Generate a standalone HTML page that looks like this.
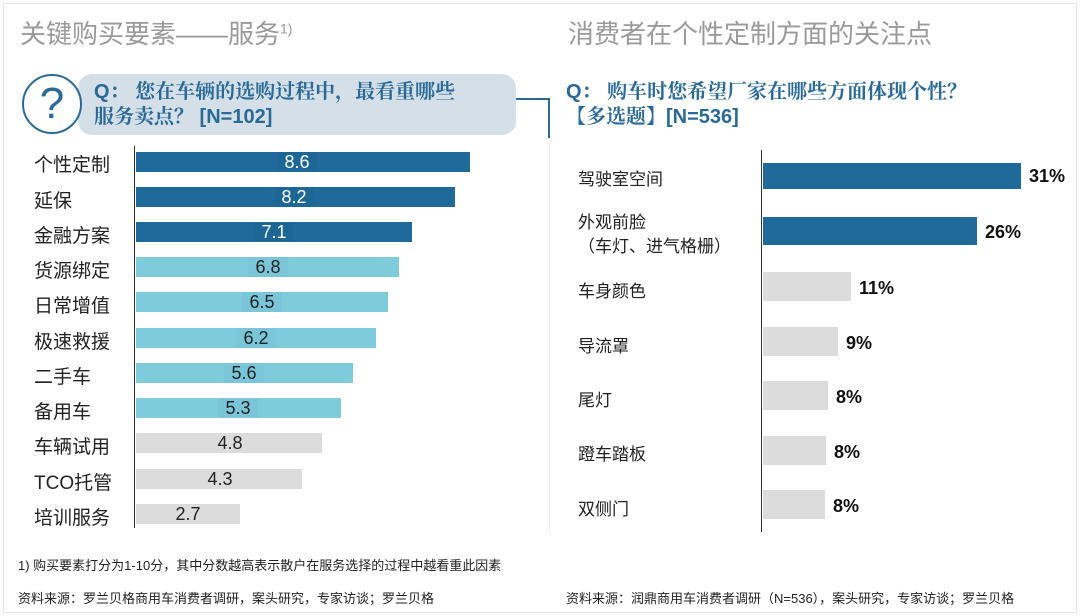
<!DOCTYPE html><html><head><meta charset="utf-8"><style>
body{margin:0;width:1080px;height:616px;background:#fff;position:relative;overflow:hidden;font-family:"Liberation Sans","Noto Sans CJK SC",sans-serif}
.a{position:absolute}
.t{color:#9a9a9a;font-size:26px;top:14px;white-space:nowrap}
.q{color:#2a6a96;font-weight:bold;font-size:20px;line-height:25px;white-space:nowrap;font-family:"Liberation Sans","Noto Serif CJK SC",serif}
.lb{font-size:19px;color:#222;left:34px;white-space:nowrap}
.bar{height:20px;left:136px}
.v{font-size:18px;text-align:center;width:40px;height:20px;line-height:20px}
.rl{font-size:17px;color:#222;left:578px;white-space:nowrap}
.rb{left:763px;background:#dcdcdc}
.p{font-size:18px;font-weight:bold;color:#111}
.f{font-size:13px;color:#222;white-space:nowrap}
</style></head><body>
<div class="a" style="left:3px;top:3px;width:1072px;height:608px;border:1px solid #e6e6e6"></div>
<div class="a t" style="left:20px">关键购买要素——服务<sup style="font-size:14px">1)</sup></div>
<div class="a t" style="left:568px">消费者在个性定制方面的关注点</div>
<div class="a" style="left:78px;top:74px;width:438px;height:61px;background:#d5dfe8;border-radius:14px"></div>
<div class="a" style="left:22px;top:74px;width:56px;height:56px;border:2px solid #2a6a96;border-radius:50%;background:#fff;color:#2a6a96;font-size:44px;line-height:56px;text-align:center;font-weight:normal">?</div>
<div class="a q" style="left:94px;top:80px">Q：&nbsp;您在车辆的选购过程中，最看重哪些<br>服务卖点？ [N=102]</div>
<div class="a" style="left:516px;top:98px;width:33px;height:2px;background:#2a6a96"></div>
<div class="a" style="left:548px;top:98px;width:2px;height:40px;background:#2a6a96"></div>
<div class="a" style="left:549px;top:138px;width:1px;height:395px;background:#eee"></div>
<div class="a q" style="left:566px;top:80px">Q：&nbsp;购车时您希望厂家在哪些方面体现个性？<br>【多选题】[N=536]</div>
<div class="a" style="left:134px;top:146px;width:1px;height:382px;background:#333"></div>
<div class="a" style="left:761px;top:150px;width:1px;height:382px;background:#333"></div>
<div class="a lb" style="top:150px">个性定制</div><div class="a bar" style="top:152px;width:334px;background:#1f6a9a"></div><div class="a v" style="left:277px;top:152px;color:#fff;background:#1d6796">8.6</div>
<div class="a lb" style="top:186px">延保</div><div class="a bar" style="top:187px;width:319px;background:#1f6a9a"></div><div class="a v" style="left:274px;top:187px;color:#fff;background:#1d6796">8.2</div>
<div class="a lb" style="top:221px">金融方案</div><div class="a bar" style="top:222px;width:276px;background:#1f6a9a"></div><div class="a v" style="left:254px;top:222px;color:#fff;background:#1d6796">7.1</div>
<div class="a lb" style="top:256px">货源绑定</div><div class="a bar" style="top:257px;width:263px;background:#7ecbdc"></div><div class="a v" style="left:248px;top:257px;color:#222;background:#7ac6d8">6.8</div>
<div class="a lb" style="top:291px">日常增值</div><div class="a bar" style="top:292px;width:252px;background:#7ecbdc"></div><div class="a v" style="left:242px;top:292px;color:#222;background:#7ac6d8">6.5</div>
<div class="a lb" style="top:327px">极速救援</div><div class="a bar" style="top:328px;width:240px;background:#7ecbdc"></div><div class="a v" style="left:236px;top:328px;color:#222;background:#7ac6d8">6.2</div>
<div class="a lb" style="top:362px">二手车</div><div class="a bar" style="top:363px;width:217px;background:#7ecbdc"></div><div class="a v" style="left:224px;top:363px;color:#222;background:#7ac6d8">5.6</div>
<div class="a lb" style="top:397px">备用车</div><div class="a bar" style="top:398px;width:205px;background:#7ecbdc"></div><div class="a v" style="left:218px;top:398px;color:#222;background:#7ac6d8">5.3</div>
<div class="a lb" style="top:432px">车辆试用</div><div class="a bar" style="top:433px;width:186px;background:#dcdcdc"></div><div class="a v" style="left:210px;top:433px;color:#222">4.8</div>
<div class="a lb" style="top:468px">TCO托管</div><div class="a bar" style="top:469px;width:166px;background:#dcdcdc"></div><div class="a v" style="left:200px;top:469px;color:#222">4.3</div>
<div class="a lb" style="top:503px">培训服务</div><div class="a bar" style="top:504px;width:104px;background:#dcdcdc"></div><div class="a v" style="left:168px;top:504px;color:#222">2.7</div>
<div class="a rl" style="top:165px">驾驶室空间</div><div class="a rb" style="top:163px;width:258px;height:26px;background:#1f6a9a"></div><div class="a p" style="left:1029px;top:166px">31%</div>
<div class="a rl" style="top:211px;line-height:24px">外观前脸<br>（车灯、进气格栅）</div><div class="a rb" style="top:217px;width:214px;height:28px;background:#1f6a9a"></div><div class="a p" style="left:985px;top:222px">26%</div>
<div class="a rl" style="top:277px">车身颜色</div><div class="a rb" style="top:272px;width:88px;height:29px"></div><div class="a p" style="left:859px;top:278px">11%</div>
<div class="a rl" style="top:332px">导流罩</div><div class="a rb" style="top:327px;width:75px;height:29px"></div><div class="a p" style="left:846px;top:333px">9%</div>
<div class="a rl" style="top:386px">尾灯</div><div class="a rb" style="top:381px;width:65px;height:29px"></div><div class="a p" style="left:836px;top:387px">8%</div>
<div class="a rl" style="top:440px">蹬车踏板</div><div class="a rb" style="top:436px;width:63px;height:29px"></div><div class="a p" style="left:834px;top:442px">8%</div>
<div class="a rl" style="top:495px">双侧门</div><div class="a rb" style="top:490px;width:62px;height:29px"></div><div class="a p" style="left:833px;top:496px">8%</div>
<div class="a f" style="left:18px;top:555px">1) 购买要素打分为1-10分，其中分数越高表示散户在服务选择的过程中越看重此因素</div>
<div class="a f" style="left:18px;top:588px">资料来源：罗兰贝格商用车消费者调研，案头研究，专家访谈；罗兰贝格</div>
<div class="a f" style="left:566px;top:588px">资料来源：润鼎商用车消费者调研（N=536），案头研究，专家访谈；罗兰贝格</div>
</body></html>
